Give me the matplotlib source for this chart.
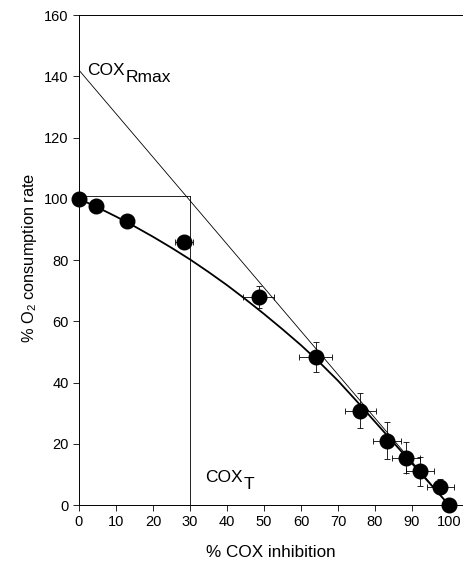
import matplotlib
matplotlib.use("Agg")
import matplotlib.pyplot as plt

plt.rcParams["font.family"] = ["Liberation Sans", "DejaVu Sans"]
plt.rcParams["mathtext.fontset"] = "custom"
plt.rcParams["mathtext.rm"] = "Liberation Sans"
plt.rcParams["mathtext.it"] = "Liberation Sans"

# measured points: % COX inhibition vs % O2 consumption rate
inhibition = [0, 4.7, 13.0, 28.4, 48.6, 64.0, 76.0, 83.3, 88.4, 92.2, 97.7, 100]
o2_rate = [100, 97.8, 92.7, 85.8, 67.8, 48.3, 30.8, 21.0, 15.5, 11.0, 6.0, 0]
inhibition_err = [0, 0, 0, 2.4, 4.2, 4.5, 4.2, 3.8, 3.8, 3.8, 3.7, 0]
o2_err = [0, 0, 0, 1.6, 3.6, 4.8, 5.7, 6.0, 5.0, 4.8, 2.5, 0]

# fitted curve
fit_x = [0, 5, 10, 15, 20, 25, 30, 35, 40, 45, 50, 55, 60, 65, 70, 75, 80, 85, 90, 95, 100]
fit_y = [100, 97.2, 94.2, 91.0, 87.6, 84.0, 80.2, 76.1, 71.8, 67.2, 62.4, 57.4,
         52.2, 46.6, 40.6, 34.0, 27.2, 20.4, 13.6, 6.8, 0]

# threshold construction
rmax = 142
cox_t = 30
cox_t_rate = 101

fig = plt.figure(figsize=(4.63, 5.61), dpi=100)
ax = fig.add_axes([0.1706, 0.0998, 0.8294, 0.8734])

ax.plot([0, 100], [rmax, 0], color="black", lw=0.6)
ax.plot([0, cox_t], [cox_t_rate, cox_t_rate], color="black", lw=0.6)
ax.plot([cox_t, cox_t], [0, cox_t_rate], color="black", lw=0.6)
ax.plot(fit_x, fit_y, color="black", lw=1.3)

ax.errorbar(inhibition, o2_rate, xerr=inhibition_err, yerr=o2_err, fmt="o",
            color="black", ms=10.5, ecolor="black", elinewidth=0.6,
            capsize=2.5, capthick=0.6, zorder=5, clip_on=False)

ax.text(2.2, 142, "COX", fontsize=12.5, va="center", ha="left")
ax.annotate("Rmax", xy=(2.2, 142), xytext=(28, -5), textcoords="offset points",
            fontsize=12.5, va="center", ha="left")
ax.text(34, 9, "COX", fontsize=12.5, va="center", ha="left")
ax.annotate("T", xy=(34, 9), xytext=(28, -5), textcoords="offset points",
            fontsize=12.5, va="center", ha="left")

ax.set_xlim(0, 103.8)
ax.set_ylim(0, 160)
ax.set_xticks(range(0, 101, 10))
ax.set_yticks(range(0, 161, 20))
ax.tick_params(direction="out", length=4, width=0.6, labelsize=10.5)
for side in ["left", "bottom", "top"]:
    ax.spines[side].set_linewidth(0.7)
ax.spines["right"].set_visible(False)

ax.set_xlabel("% COX inhibition", fontsize=12.3, labelpad=11)
ax.set_ylabel(r"% O$_{\mathregular{2}}$ consumption rate", fontsize=11.8)
ax.yaxis.set_label_coords(-0.105, 0.505)

fig.savefig("out.png", dpi=100)
